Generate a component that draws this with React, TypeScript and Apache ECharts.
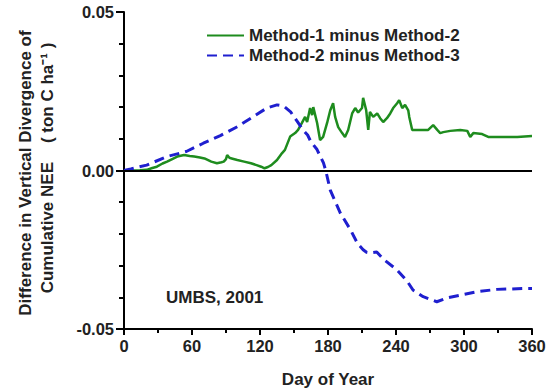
import React, { useEffect, useRef } from "react";
import * as echarts from "echarts";

const greenDays = [0, 6, 14, 20, 25, 29, 34, 38, 43, 47, 53, 58, 62, 67, 71, 77, 82, 86, 88, 90, 91, 93, 95, 100, 106, 112, 117, 121, 124, 127, 130, 135, 139.5, 142, 146.6, 151, 153.6, 157, 159.8, 161.6, 164.2, 166, 167, 170.4, 173, 175.7, 179.2, 182, 184.5, 186.3, 189, 192.5, 195, 197.8, 201.3, 204, 206.6, 210, 211, 213.7, 215.5, 217, 219.9, 223.4, 226, 228.7, 232, 234.9, 237.5, 241, 242.8, 245.5, 248, 250.8, 251.7, 254.3, 257, 263, 268.4, 272.8, 276.4, 279, 281.7, 287.9, 296.7, 302.9, 305.5, 308.2, 316, 321.4, 332, 347, 360];
const greenValues = [0, 0, 0.0001, 0.0002, 0.0008, 0.0012, 0.0022, 0.0028, 0.0037, 0.0044, 0.0049, 0.0046, 0.0044, 0.0041, 0.0038, 0.0028, 0.0023, 0.0026, 0.0028, 0.0036, 0.0049, 0.004, 0.0038, 0.0033, 0.0028, 0.0023, 0.0017, 0.0012, 0.0007, 0.0011, 0.0017, 0.0033, 0.0055, 0.0065, 0.0107, 0.0118, 0.0128, 0.015, 0.0169, 0.0153, 0.0197, 0.0175, 0.02, 0.015, 0.0096, 0.0106, 0.015, 0.019, 0.0212, 0.0169, 0.0137, 0.0118, 0.0106, 0.0128, 0.018, 0.0197, 0.0183, 0.0197, 0.0229, 0.019, 0.0128, 0.0185, 0.0169, 0.018, 0.0165, 0.0153, 0.0165, 0.018, 0.0197, 0.0212, 0.0222, 0.0197, 0.0207, 0.019, 0.0169, 0.0128, 0.0128, 0.0128, 0.0128, 0.0143, 0.0128, 0.0118, 0.0121, 0.0125, 0.0128, 0.0125, 0.0106, 0.0118, 0.0115, 0.0106, 0.0106, 0.0106, 0.0109];

const blueDays = [0, 6, 20, 38, 55, 70, 85, 100, 114, 126, 135, 141, 147, 153, 158, 162, 165, 170, 176, 178, 182, 191, 200, 206, 211, 214, 217, 223, 229, 241, 250, 255, 264, 276, 285, 297, 312, 329, 356, 360];
const blueValues = [0, 0.0005, 0.0017, 0.0044, 0.006, 0.0086, 0.011, 0.0138, 0.017, 0.0197, 0.0207, 0.0203, 0.0185, 0.0154, 0.0128, 0.0112, 0.009, 0.0068, 0.0024, 0, -0.0062, -0.0135, -0.0188, -0.023, -0.025, -0.0258, -0.026, -0.0257, -0.028, -0.0314, -0.035, -0.0377, -0.0398, -0.0414, -0.0402, -0.0393, -0.0382, -0.0375, -0.0372, -0.0372];

const seriesNames = ["Method-1 minus Method-2", "Method-2 minus Method-3"];
const yTitle1 = "Difference in Vertical Divergence of";
const yTitle2 = "Cumulative NEE    ( ton C ha\u207B\u00B9 )";
const xTitle = "Day of Year";
const annotation = "UMBS, 2001";

const FONT = "'Liberation Sans', Arial, sans-serif";
const TXT = "#222";

export default function App() {
  const ref = useRef<HTMLDivElement>(null);
  useEffect(() => {
    if (!ref.current) return;
    const chart = echarts.init(ref.current, undefined, { renderer: "svg" });
    const green = greenDays.map((d, i) => [d, greenValues[i]]);
    const blue = blueDays.map((d, i) => [d, blueValues[i]]);
    chart.setOption({
      animation: false,
      backgroundColor: "#fff",
      grid: { left: 124, right: 17, top: 12, bottom: 60 },
      legend: {
        orient: "vertical",
        left: 201,
        top: 22,
        itemWidth: 37,
        itemHeight: 14,
        itemGap: 3,
        itemStyle: { opacity: 0 },
        data: seriesNames,
        textStyle: { fontFamily: FONT, fontWeight: "bold", fontSize: 17, color: TXT },
      },
      xAxis: {
        type: "value",
        min: 0,
        max: 360,
        interval: 60,
        axisLine: { onZero: false, lineStyle: { color: "#000", width: 2 } },
        axisTick: { show: true, length: 6, lineStyle: { color: "#000", width: 2 } },
        minorTick: { show: true, splitNumber: 2, length: 4, lineStyle: { color: "#000", width: 2 } },
        splitLine: { show: false },
        minorSplitLine: { show: false },
        axisLabel: { fontFamily: FONT, fontWeight: "bold", fontSize: 16.5, color: TXT, margin: 8 },
      },
      yAxis: {
        type: "value",
        min: -0.05,
        max: 0.05,
        interval: 0.05,
        axisLine: { show: true, lineStyle: { color: "#000", width: 2 } },
        axisTick: { show: true, length: 8, lineStyle: { color: "#000", width: 2 } },
        minorTick: { show: true, splitNumber: 5, length: 5, lineStyle: { color: "#000", width: 2 } },
        splitLine: { show: false },
        minorSplitLine: { show: false },
        axisLabel: {
          fontFamily: FONT,
          fontWeight: "bold",
          fontSize: 16.5,
          color: TXT,
          margin: 10,
          formatter: (v: number) => v.toFixed(2),
        },
      },
      series: [
        {
          name: seriesNames[0],
          type: "line",
          data: green,
          symbol: "none",
          showSymbol: false,
          lineStyle: { color: "#1e8c1e", width: 2.5 },
          itemStyle: { color: "#1e8c1e" },
          z: 3,
          markLine: {
            silent: true,
            symbol: "none",
            label: { show: false },
            lineStyle: { color: "#000", width: 2, type: "solid" },
            data: [{ yAxis: 0 }],
          },
        },
        {
          name: seriesNames[1],
          type: "line",
          data: blue,
          symbol: "none",
          showSymbol: false,
          lineStyle: { color: "#1f1fcf", width: 3, type: [10, 6] },
          itemStyle: { color: "#1f1fcf" },
          z: 4,
        },
      ],
      graphic: [
        {
          type: "text",
          x: 25,
          y: 173,
          rotation: Math.PI / 2,
          style: { text: yTitle1, align: "center", verticalAlign: "middle", font: `bold 17px ${FONT}`, fill: TXT },
        },
        {
          type: "text",
          x: 47,
          y: 168,
          rotation: Math.PI / 2,
          style: { text: yTitle2, align: "center", verticalAlign: "middle", font: `bold 17px ${FONT}`, fill: TXT },
        },
        {
          type: "text",
          x: 328,
          y: 379,
          style: { text: xTitle, align: "center", verticalAlign: "middle", font: `bold 17px ${FONT}`, fill: TXT },
        },
        {
          type: "text",
          x: 166,
          y: 297,
          style: { text: annotation, align: "left", verticalAlign: "middle", font: `bold 17px ${FONT}`, fill: TXT },
        },
      ],
    });
    return () => chart.dispose();
  }, []);
  return <div ref={ref} style={{ width: 549, height: 389, position: "absolute", left: 0, top: 0 }} />;
}
